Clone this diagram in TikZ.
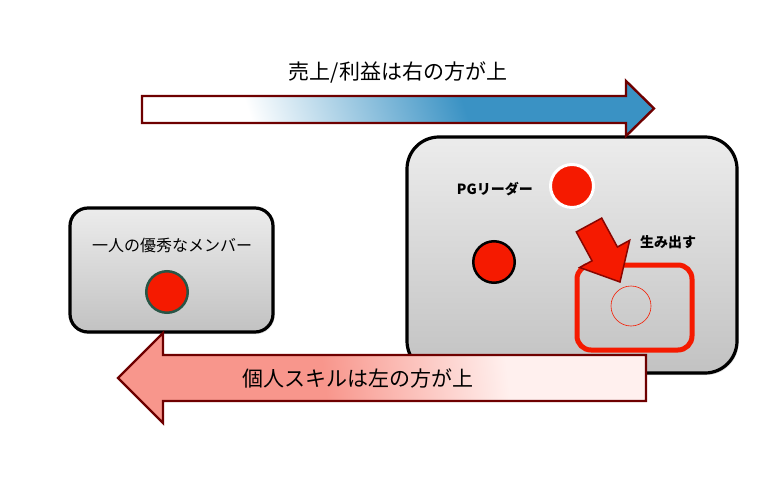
\documentclass[tikz,border=0pt]{standalone}
\usepackage{fontspec}
\setmainfont{Noto Sans CJK JP}
\usetikzlibrary{positioning,shadows}

\definecolor{dotred}{RGB}{245,26,0}
\definecolor{arrowrim}{RGB}{110,0,0}
\definecolor{salesblue}{RGB}{58,146,196}
\definecolor{skillpink}{RGB}{248,150,140}
\definecolor{skilllight}{RGB}{255,240,238}
\definecolor{panetop}{RGB}{236,236,236}
\definecolor{panebottom}{RGB}{194,194,194}
\definecolor{dotrim}{RGB}{40,85,70}

\pgfdeclarehorizontalshading{salesfade}{100bp}{color(0bp)=(white); color(32bp)=(white); color(58bp)=(salesblue); color(100bp)=(salesblue)}
\pgfdeclarehorizontalshading{skillfade}{100bp}{color(0bp)=(skillpink); color(44bp)=(skillpink); color(63bp)=(skilllight); color(100bp)=(skilllight)}

\begin{document}
\begin{tikzpicture}[x=1pt, y=-1pt,
    pane/.style={draw=black, line width=3.2pt, top color=panetop, bottom color=panebottom,
      drop shadow={opacity=0.25, shadow xshift=1.5pt, shadow yshift=-2pt}},
    reddot/.style={circle, fill=dotred, inner sep=0pt},
    bigarrow/.style={draw=arrowrim, line width=2.4pt, line join=miter},
    caption/.style={font=\fontsize{21}{24}\selectfont},
    tag/.style={font=\bfseries\fontsize{14}{16}\selectfont, inner sep=0pt}]
   \useasboundingbox (0,0) rectangle (778,497);

   \node[pane, rounded corners=18pt, minimum width=203pt, minimum height=124pt] (member) at (171.5,270) {};
   \node[font=\fontsize{16}{18}\selectfont] (memberText) at (172,245) {一人の優秀なメンバー};
   \node[reddot, draw=dotrim, line width=2.5pt, minimum size=41.5pt] (memberDot) at (167,292) {};

   \node[pane, rounded corners=32pt, minimum width=330pt, minimum height=236pt] (team) at (572,255) {};
   \node[reddot, draw=white, line width=3pt, minimum size=43pt,
     drop shadow={opacity=0.35, shadow xshift=1pt, shadow yshift=-1.5pt}] (leaderDot) at (572,186) {};
   \node[tag, left=16pt of leaderDot, yshift=-3pt] (leaderText) {PGリーダー};
   \node[reddot, draw=black, line width=2.5pt, minimum size=41.5pt] (otherDot) at (494,262) {};
   \node[draw=dotred, line width=5pt, rounded corners=14pt, minimum width=115pt, minimum height=85pt] (result) at (634.5,307.5) {};
   \node[circle, draw=dotred, line width=0.6pt, minimum size=40pt, inner sep=0pt] (newDot) at (631,306) {};
   \node[tag] (makeText) at (668,242) {生み出す};
   \draw[fill=dotred, draw=arrowrim!80!dotred, line width=1.5pt, line join=miter]
     (601.7,218.1) -- (617.4,247.0) -- (629.7,240.3) -- (620,282)
     -- (579.7,267.5) -- (592.0,260.8) -- (576.3,231.9) -- cycle;

   \node[caption] (salesText) at (398,72) {売上/利益は右の方が上};
   \shadedraw[bigarrow, shading=salesfade, shading angle=19]
     (142,96) -- (626,96) -- (626,81) -- (654,108.5) -- (626,136) -- (626,123) -- (142,123) -- cycle;

   \shadedraw[bigarrow, shading=skillfade, shading angle=7]
     (646,355) -- (163,355) -- (163,333) -- (118,378) -- (163,423) -- (163,401) -- (646,401) -- cycle;
   \node[caption] (skillText) at (358,378) {個人スキルは左の方が上};
\end{tikzpicture}
\end{document}
